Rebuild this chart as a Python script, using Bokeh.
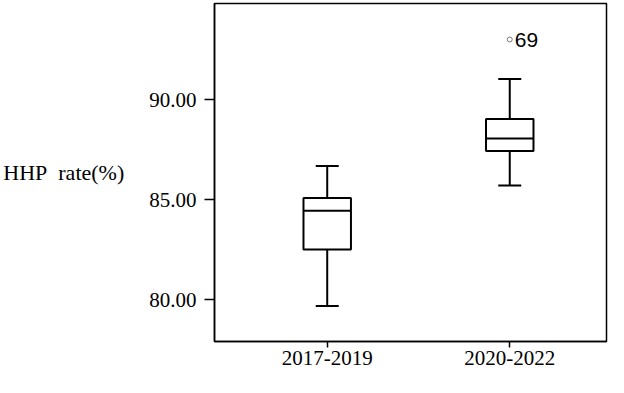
from bokeh.plotting import figure
from bokeh.models import Range1d, FixedTicker, PrintfTickFormatter, ColumnDataSource, Div
from bokeh.layouts import row
from bokeh.core.properties import value
from bokeh.embed import file_html
from bokeh.resources import INLINE

# ---- data ----
categories = ["2017-2019", "2020-2022"]
whisker_low = [79.67, 85.70]
q1 = [82.50, 87.43]
median = [84.44, 88.05]
q3 = [85.07, 89.02]
whisker_high = [86.67, 91.03]
outlier_group = ["2020-2022"]
outlier_values = [93.0]
outlier_labels = ["69"]
y_ticks = [80, 85, 90]
y_title = "HHP\u00a0 rate(%)"

# ---- layout ----
W, H = 608, 377
BL, BR, BT, BB = 213, 2, 3, 36
X0, X1 = 0.3825, 2.530
Y1 = 94.8
Y0 = Y1 - (H - BT - BB) / 20.0
SERIF = "Liberation Serif"

pos = [i + 1 for i in range(len(categories))]
box_w = 0.26
cap_w = 0.126

src = ColumnDataSource(dict(
    x=pos, lo=whisker_low, q1=q1, med=median, q3=q3, hi=whisker_high,
    left=[x - box_w / 2 for x in pos], right=[x + box_w / 2 for x in pos],
    cl=[x - cap_w / 2 for x in pos], cr=[x + cap_w / 2 for x in pos],
))

p = figure(width=W, height=H, x_range=Range1d(X0, X1), y_range=Range1d(Y0, Y1),
           output_backend="svg", toolbar_location=None,
           min_border_left=BL, min_border_right=BR, min_border_top=BT, min_border_bottom=BB)
p.xgrid.visible = False
p.ygrid.visible = False
p.outline_line_color = "black"
p.outline_line_width = 1.5
p.background_fill_color = "white"
p.border_fill_color = "white"

lw = 2
p.segment(x0="x", y0="hi", x1="x", y1="q3", source=src, line_color="black", line_width=lw)
p.segment(x0="x", y0="lo", x1="x", y1="q1", source=src, line_color="black", line_width=lw)
p.segment(x0="cl", y0="hi", x1="cr", y1="hi", source=src, line_color="black", line_width=lw)
p.segment(x0="cl", y0="lo", x1="cr", y1="lo", source=src, line_color="black", line_width=lw)
p.quad(left="left", right="right", bottom="q1", top="q3", source=src,
       fill_color="white", line_color="black", line_width=lw)
p.segment(x0="left", y0="med", x1="right", y1="med", source=src, line_color="black", line_width=lw)

ox = [categories.index(g) + 1 for g in outlier_group]
osrc = ColumnDataSource(dict(x=ox, y=outlier_values, t=outlier_labels))
p.scatter(x="x", y="y", source=osrc, marker="circle", size=5, fill_color="white",
          line_color="#777777", line_width=1)
p.text(x="x", y="y", text="t", source=osrc, x_offset=5, text_baseline="middle",
       text_align="left", text_font_size="21px", text_font=value("Liberation Sans"),
       text_color="black")

p.xaxis.ticker = FixedTicker(ticks=pos)
p.xaxis.major_label_overrides = {x: c for x, c in zip(pos, categories)}
p.xaxis.minor_tick_line_color = None
p.xaxis.major_tick_out = 6
p.xaxis.major_tick_in = 0
p.xaxis.major_label_standoff = 3

p.yaxis.ticker = FixedTicker(ticks=y_ticks)
p.yaxis.formatter = PrintfTickFormatter(format="%.2f")
p.yaxis.minor_tick_line_color = None
p.yaxis.major_tick_out = 10
p.yaxis.major_tick_in = 0
p.yaxis.major_label_standoff = 8

for ax in (p.xaxis[0], p.yaxis[0]):
    ax.axis_line_color = "black"
    ax.axis_line_width = 1.5
    ax.major_tick_line_color = "black"
    ax.major_tick_line_width = 1.5
    ax.major_label_text_font = SERIF
    ax.major_label_text_font_size = "21px"
    ax.major_label_text_color = "black"

yax = p.yaxis[0]
if "axis_label_orientation" in yax.properties():
    yax.axis_label = y_title
    yax.axis_label_orientation = "horizontal"
    yax.axis_label_standoff = 22
    yax.axis_label_text_font = SERIF
    yax.axis_label_text_font_size = "22px"
    yax.axis_label_text_font_style = "normal"
    yax.axis_label_text_color = "black"
    out = p
else:
    p.min_border_left = 85
    p.width = W - 128
    div = Div(text=y_title, width=128, height=H,
              styles={"font-family": SERIF, "font-size": "22px", "color": "black",
                      "padding-top": "142px", "white-space": "pre"})
    out = row(div, p)

open("out.html", "w").write(file_html(out, INLINE))
